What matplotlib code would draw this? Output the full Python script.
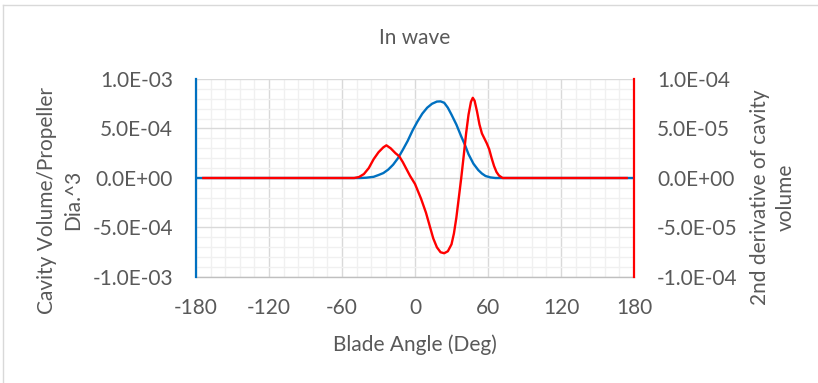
import matplotlib.pyplot as plt
from matplotlib.lines import Line2D
from matplotlib.ticker import MultipleLocator, FuncFormatter

plt.rcParams['font.family'] = ['Lato', 'DejaVu Sans']
plt.rcParams['axes.unicode_minus'] = False

# cavity volume / D^3 against blade angle
vol_angle = [-180, -45, -40, -34, -30, -26, -22, -18, -14, -10, -6, -2, 2, 6, 10, 14, 18, 21,
             24, 27, 30, 34, 38, 41, 44, 48, 52, 55, 58, 62, 66, 180]
vol = [0, 0, 0.003e-3, 0.012e-3, 0.03e-3, 0.05e-3, 0.085e-3, 0.134e-3, 0.2e-3, 0.285e-3,
       0.375e-3, 0.48e-3, 0.57e-3, 0.65e-3, 0.71e-3, 0.75e-3, 0.772e-3, 0.774e-3, 0.76e-3,
       0.71e-3, 0.64e-3, 0.54e-3, 0.42e-3, 0.336e-3, 0.24e-3, 0.145e-3, 0.08e-3, 0.045e-3,
       0.02e-3, 0.006e-3, 0, 0]

# second derivative of cavity volume
d2_angle = [-174, -50, -46, -42, -38, -34, -30, -26, -23.5, -20, -16, -13, -10, -7, -4, 0, 2, 5,
            9, 12, 15, 18, 21, 24, 27, 30, 32, 34, 36, 38, 40, 42, 44, 46, 47.5, 49, 51, 53, 55,
            57, 59, 61, 63, 65, 67, 69, 72, 174]
d2 = [0, 0, 0.01e-4, 0.04e-4, 0.1e-4, 0.19e-4, 0.26e-4, 0.31e-4, 0.33e-4, 0.30e-4, 0.25e-4,
      0.22e-4, 0.16e-4, 0.09e-4, 0.02e-4, -0.06e-4, -0.12e-4, -0.21e-4, -0.35e-4, -0.48e-4,
      -0.61e-4, -0.70e-4, -0.75e-4, -0.76e-4, -0.74e-4, -0.67e-4, -0.56e-4, -0.40e-4, -0.20e-4,
      0.0, 0.22e-4, 0.45e-4, 0.64e-4, 0.77e-4, 0.81e-4, 0.78e-4, 0.67e-4, 0.54e-4, 0.45e-4,
      0.40e-4, 0.35e-4, 0.29e-4, 0.20e-4, 0.12e-4, 0.06e-4, 0.025e-4, 0, 0]

xticks = [-180, -120, -60, 0, 60, 120, 180]

BLUE = '#0070C0'
RED = '#FF0000'
TXT = '#595959'
FS = 15


def sci(v, pos):
    s = '%.1E' % v
    return s.replace('-0.0E', '0.0E')


fig = plt.figure(figsize=(8.18, 3.83), dpi=100)
ax = fig.add_axes([196 / 818, 1 - 277 / 383, 438 / 818, 198 / 383])
ax2 = ax.twinx()

ax.set_xlim(-180, 180)
ax.set_ylim(-1e-3, 1e-3)
ax2.set_ylim(-1e-4, 1e-4)
ax.set_xticks(xticks)
ax.xaxis.set_minor_locator(MultipleLocator(12))
ax.yaxis.set_major_locator(MultipleLocator(5e-4))
ax.yaxis.set_minor_locator(MultipleLocator(1e-4))
ax2.yaxis.set_major_locator(MultipleLocator(5e-5))

ax.grid(which='minor', color='#f0f0f0', lw=1.0, zorder=0)
ax.grid(which='major', color='#d9d9d9', lw=1.0, zorder=0)
ax.set_axisbelow(True)

ax.plot(vol_angle, vol, color=BLUE, lw=1.7, zorder=3)
ax2.plot(d2_angle, d2, color=RED, lw=1.7, zorder=3)

ax.yaxis.set_major_formatter(FuncFormatter(sci))
ax2.yaxis.set_major_formatter(FuncFormatter(sci))

for a in (ax, ax2):
    a.tick_params(which='both', length=0, labelsize=FS, colors=TXT)
    for s in a.spines.values():
        s.set_visible(False)
ax.tick_params(axis='y', pad=16.5)
ax2.tick_params(axis='y', pad=16.5)
ax.tick_params(axis='x', pad=15)

ax.spines['bottom'].set_visible(True)
ax.spines['bottom'].set_color('#bfbfbf')
ax.spines['bottom'].set_linewidth(1.0)
ax2.spines['left'].set_visible(True)
ax2.spines['left'].set_color(BLUE)
ax2.spines['left'].set_linewidth(1.6)
ax2.spines['right'].set_visible(True)
ax2.spines['right'].set_color(RED)
ax2.spines['right'].set_linewidth(1.6)

fig.text(415 / 818, 1 - 38 / 383, 'In wave', ha='center', va='center', fontsize=FS, color=TXT)
fig.text(415 / 818, 1 - 345 / 383, 'Blade Angle (Deg)', ha='center', va='center',
         fontsize=FS, color=TXT)
fig.text(60 / 818, 1 - 200 / 383, 'Cavity Volume/Propeller\nDia.^3', ha='center', va='center',
         rotation=90, multialignment='center', fontsize=FS, color=TXT, linespacing=1.35)
fig.text(773 / 818, 1 - 197 / 383, '2nd derivative of cavity\nvolume', ha='center',
         va='center', rotation=90, multialignment='center', fontsize=FS, color=TXT,
         linespacing=1.35)

# chart area border
fig.add_artist(Line2D([3 / 818, 3 / 818], [0, 1 - 5 / 383], transform=fig.transFigure,
                      color='#d9d9d9', lw=1.0))
fig.add_artist(Line2D([3 / 818, 1], [1 - 5 / 383, 1 - 5 / 383], transform=fig.transFigure,
                      color='#d9d9d9', lw=1.0))

fig.savefig('out.png', dpi=100)
